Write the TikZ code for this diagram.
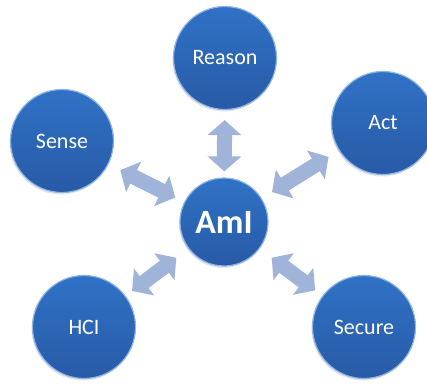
\documentclass[tikz,border=0pt]{standalone}
\usepackage{fontspec}
\setmainfont{Carlito}
\usetikzlibrary{arrows.meta,shadows}
\definecolor{ballblue}{HTML}{3072C6}
\definecolor{balldark}{HTML}{285AA6}
\definecolor{ballrim}{HTML}{8DB4E6}
\definecolor{arrowblue}{HTML}{A0B3D9}
\tikzset{
	ball/.style={circle,minimum size=103pt,inner sep=0pt,text=white,
		top color=ballblue,bottom color=balldark,draw=ballrim,line width=1.2pt,
		drop shadow={opacity=0.2,shadow xshift=-1pt,shadow yshift=-2pt},
		font=\fontsize{22}{26}\selectfont},
	biarrow/.style={draw=arrowblue,line width=15pt,
		{Triangle[width=33pt,length=15pt]}-{Triangle[width=33pt,length=15pt]}}
}
\begin{document}
\begin{tikzpicture}[x=1pt,y=-1pt]
		%\draw [help lines] (0,0) grid (427,385);
		\useasboundingbox (0,0) rectangle (427,385);
		% circles
			\node [ball,minimum size=88pt,font=\bfseries\fontsize{34}{40}\selectfont] (ami) at (224,222) {AmI};
			\node [ball] (reason) at (225,58) {Reason};
			\node [ball] (sense) at (62,141) {Sense};
			\node [ball] (act) at (383,123) {Act};
			\node [ball] (hci) at (84,327) {HCI};
			\node [ball] (secure) at (364,327) {Secure};
		% arrows
			\draw [biarrow,shorten <=10pt,shorten >=6pt] (reason) -- (ami);
			\draw [biarrow,shorten <=13pt,shorten >=10pt] (sense) -- (ami);
			\draw [biarrow,shorten <=12pt,shorten >=12pt] (ami) -- (act);
			\draw [biarrow,shorten <=8pt,shorten >=15pt] (hci) -- (ami);
			\draw [biarrow,shorten <=15pt,shorten >=9pt] (ami) -- (secure);
\end{tikzpicture}
\end{document}
